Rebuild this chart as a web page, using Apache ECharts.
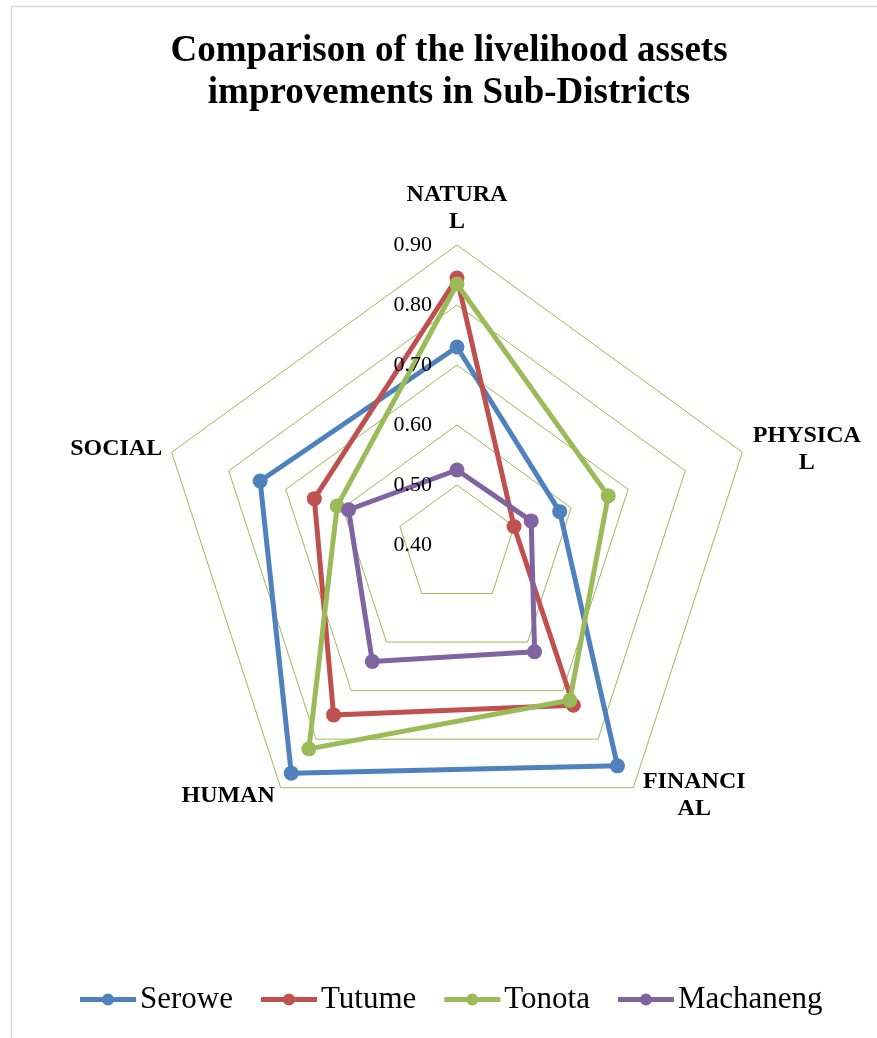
<!DOCTYPE html>
<html>
<head>
<meta charset="utf-8">
<script src="https://cdn.jsdelivr.net/npm/echarts@6/dist/echarts.min.js"></script>
<style>
  html, body { margin: 0; padding: 0; background: #ffffff; }
  #chart { width: 877px; height: 1038px; }
</style>
</head>
<body>
<div id="chart"></div>
<script>
// Livelihood asset categories, clockwise from the top
const assetNames = ['NATURA\nL', 'PHYSICA\nL', 'FINANCI\nAL', 'HUMAN', 'SOCIAL'];

// Sub-district scores, in the same order as assetNames
const subDistricts = ['Serowe', 'Tutume', 'Tonota', 'Machaneng'];
const serowe    = [0.73, 0.58, 0.855, 0.87, 0.745];
const tutume    = [0.845, 0.50, 0.73, 0.75, 0.65];
const tonota    = [0.835, 0.665, 0.72, 0.82, 0.61];
const machaneng = [0.525, 0.53, 0.62, 0.64, 0.59];

// Radial scale
const scaleMin = 0.40;
const scaleMax = 0.90;
const scaleSplits = 5;

const palette = ['#4F81BD', '#C0504D', '#9BBB59', '#8064A2'];
const serif = "'Liberation Serif', 'Times New Roman', serif";

// ECharts lays radar spokes out counter-clockwise; this order walks them clockwise
const spokeOrder = [0, 4, 3, 2, 1];

// Legend marker: a short thick line with a dot in its middle
const legendIcon = 'path://M0,3.5 L56,3.5 L56,8.5 L0,8.5 Z M22,6 A6,6 0 1,1 34,6 A6,6 0 1,1 22,6 Z';

const chart = echarts.init(document.getElementById('chart'), null, { renderer: 'canvas' });

const seriesValues = [serowe, tutume, tonota, machaneng];

const radarCenter = [457, 545];
const radarRadius = 300;

chart.setOption({
  animation: false,
  backgroundColor: '#ffffff',
  color: palette,
  graphic: [{
    type: 'rect',
    x: 11.5, y: 6.5,
    shape: { width: 900, height: 1100 },
    style: { fill: 'none', stroke: '#d9d9d9', lineWidth: 1.5 },
    silent: true,
    z: -10
  }],
  title: {
    text: 'Comparison of the livelihood assets\nimprovements in Sub-Districts',
    left: 449,
    top: 30,
    padding: 0,
    textAlign: 'center',
    textStyle: {
      fontFamily: serif,
      fontWeight: 'bold',
      fontSize: 37,
      lineHeight: 42,
      color: '#000000'
    }
  },
  legend: {
    data: subDistricts,
    left: 80,
    top: 984,
    padding: 0,
    itemGap: 28,
    itemWidth: 56,
    itemHeight: 12,
    icon: legendIcon,
    textStyle: { fontFamily: serif, fontSize: 31, color: '#000000', padding: [0, 0, 0, -1] }
  },
  radar: [
    // grid polygons and spoke names, under the series
    {
      z: 0,
      center: radarCenter,
      radius: radarRadius,
      startAngle: 90,
      shape: 'polygon',
      splitNumber: scaleSplits,
      nameGap: 10,
      indicator: spokeOrder.map(k => ({ name: assetNames[k], min: scaleMin, max: scaleMax })),
      axisName: {
        color: '#000000',
        fontFamily: serif,
        fontWeight: 'bold',
        fontSize: 24,
        lineHeight: 27,
        formatter: (name) => name.indexOf('\n') >= 0
          ? name.split('\n').map(s => '{c|' + s + '}').join('\n')
          : name,
        rich: {
          c: {
            width: 110,
            align: 'center',
            fontFamily: serif,
            fontWeight: 'bold',
            fontSize: 24,
            lineHeight: 27,
            color: '#000000'
          }
        }
      },
      splitLine: { lineStyle: { color: '#9BBB59', width: 1 } },
      splitArea: { show: false },
      axisLine: { show: false },
      axisTick: { show: false },
      axisLabel: { show: false }
    },
    // scale labels on the vertical spoke, drawn above the series
    {
      z: 10,
      center: radarCenter,
      radius: radarRadius,
      startAngle: 90,
      shape: 'polygon',
      splitNumber: scaleSplits,
      indicator: spokeOrder.map((k, i) => {
        const ind = { name: '', min: scaleMin, max: scaleMax };
        if (i === 0) ind.axisLabel = { show: true };
        return ind;
      }),
      axisName: { show: false },
      splitLine: { show: false },
      splitArea: { show: false },
      axisLine: { show: false },
      axisTick: { show: false },
      axisLabel: {
        show: false,
        color: '#000000',
        fontFamily: serif,
        fontSize: 22,
        margin: 25,
        formatter: (v) => Number(v).toFixed(2)
      }
    }
  ],
  series: [{
    type: 'radar',
    radarIndex: 0,
    z: 2,
    symbol: 'circle',
    symbolSize: 15,
    lineStyle: { width: 5 },
    data: subDistricts.map((name, i) => ({
      name: name,
      value: spokeOrder.map(k => seriesValues[i][k]),
      itemStyle: { color: palette[i] },
      lineStyle: { color: palette[i], width: 5 }
    }))
  }]
});
</script>
</body>
</html>
